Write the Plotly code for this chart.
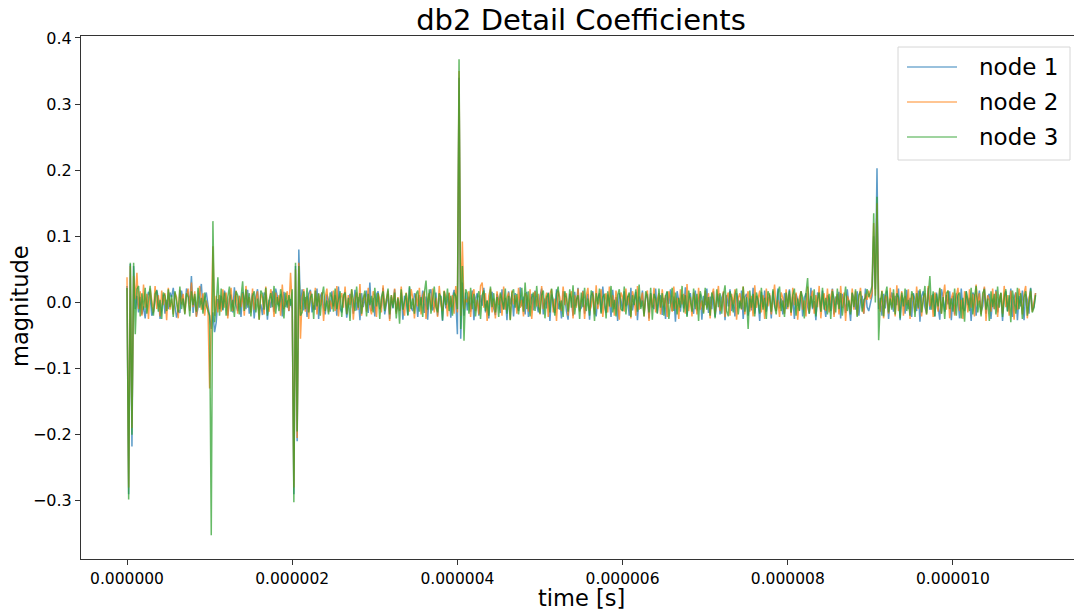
import plotly.graph_objects as go

# sampling: 551 coefficients, 0 .. 1.1e-5 s
t_step = 2e-8
n_points = 551
time_s = [i * t_step for i in range(n_points)]

# detail coefficients, in units of 1e-3
node1_milli = [
    25, -290, 58, -218, 55, -10, 10, -15, 8, -18, -6, -24, 5, 16, 10, -20, -14, 3, 19, 6, -25, -9, 12, -17, 4,
    -10, 15, 8, 22, -5, -23, -11, -16, 18, 4, -12, 21, 14, -2, 40, -16, 9, -21, -8, 13, 28, -11, 6, 15, -5,
    -25, -40, -15, -45, -30, 5, -10, 10, -12, 18, 7, -20, 5, 12, -15, 23, -4, -13, 10, -22, 16, 6, -10, 19, -17,
    2, 14, -24, 8, 20, -12, -3, -19, 15, 11, -26, 4, -8, 17, -14, 21, 9, -6, 13, -21, 16, -7, 3, -13, 5,
    -10, -290, 55, -210, 80, -10, 20, -12, 8, -22, 13, 19, -15, -4, -11, 21, -25, 9, 15, -8, -18, 12, 3, -14, 17,
    -6, 11, -20, 24, -9, -15, 6, 16, -23, -5, 13, 3, -17, 19, -12, 8, -27, 14, -7, 5, 18, -16, 30, -13, 7,
    -21, 12, 17, -10, -5, 22, -18, 2, 13, -25, 8, -9, 20, -14, 5, -12, 15, -26, 10, 4, -19, 23, -8, -13, 14,
    6, -22, 11, -4, 18, -16, 9, -26, 13, 20, -12, -6, 15, -20, 4, 10, -28, 17, -9, 2, 14, -23, 7, 19, 5,
    -48, 340, -55, 30, -20, 15, -12, 9, -14, 18, -27, 6, 14, -20, 11, -5, 22, -15, 3, -24, 10, 16, -9, -19, 13,
    4, -16, 20, -10, 7, -27, 17, -3, 12, -21, 14, -7, -13, 23, -6, 9, -18, 16, -22, 3, 13, -12, 18, -4, -15,
    10, 21, -18, 6, -9, 15, -28, 12, 4, -16, 20, -10, 2, -24, 17, 9, -13, -26, 13, 7, -20, 16, -5, 22, -12,
    -8, 18, -17, 3, 13, -26, 10, 17, -9, -21, 6, 14, -15, 24, -4, -16, 12, 2, -22, 19, -10, 8, -28, 14, 4,
    -13, 17, -6, 10, -20, 22, -12, 3, 16, -27, 9, -7, 18, -17, 6, 13, -24, 14, -3, -10, 21, -16, 5, 11, -19,
    7, -25, 16, -2, 20, -13, 9, -29, 17, 4, -14, 12, -9, 23, -20, 3, 14, -7, -17, 18, -12, 6, 13, -26, 10,
    -4, 21, -16, 9, -10, 17, -22, 2, 13, -18, 7, 15, -27, 11, -6, 20, -13, 4, -21, 14, 3, -9, 18, -25, 8,
    13, -20, 6, -12, 22, -17, 10, 2, -28, 16, -7, 18, -14, 4, 11, -24, 17, -3, -13, 21, -9, 6, -18, 14, -10,
    3, 20, -16, 9, -25, 13, 4, -12, 17, -21, 7, 14, -6, -17, 22, -10, 2, -27, 15, 10, -14, 18, -4, -22, 11,
    6, -13, 21, -18, 9, -3, 16, -24, 13, 4, -16, 20, -9, -28, 14, 7, -11, 17, -20, 3, 10, -17, 21, -7, -13,
    0, 10, 100, 20, 203, -10, 7, -20, 13, -9, 18, -25, 6, 15, -14, 10, -4, 21, -27, 11, 3, -17, 19, -10, 7,
    -22, 14, 4, -13, 18, -29, 9, 17, -7, -16, 22, -11, 2, 13, -21, 15, -6, -26, 20, 8, -14, 11, -3, 17, -27,
    10, -18, 14, 4, -24, 21, -9, -13, 17, -4, 7, -28, 15, 11, -20, 3, 18, -14, -6, 22, -17, 9, 13, -25, 6,
    -10, 19, -15, 4, 14, -28, 11, 17, -13, -3, 21, -22, 7, 15, -27, 10, -6, 18, -27, 13, 4, -17, 22, -11, -7,
    14,
]

node2_milli = [
    38, -280, 55, -190, 40, 5, 45, -10, 17, -20, 27, -8, 13, -25, 21, 3, -15, 25, -10, 11, -21, 18, -4, 14, -27,
    22, -11, 6, -18, 15, 8, -24, 19, -3, 13, -17, 10, 21, -13, 30, -7, 17, -22, 4, 25, -11, 14, -20, 3, -10,
    -130, -30, 85, -20, 10, -15, 11, -14, 20, -8, 15, -24, 6, 22, -13, 3, 18, -17, 10, -7, 14, -20, 25, -4, 8,
    -15, 21, -11, 4, 17, -26, 13, 7, -18, 24, -6, -14, 20, 8, -22, 15, -3, 11, -20, 27, -10, 4, 17, -13, 45,
    -5, -280, 50, -205, 60, -55, 7, 20, -14, 10, -25, 17, 4, -11, 22, -18, 13, -6, 15, -28, 8, 21, -15, 3, -10,
    18, -13, 25, -21, 6, 14, -8, 24, -17, 11, -4, 20, -26, 7, 15, -11, 28, -20, 3, 13, -14, 22, -7, -18, 17,
    10, -22, 14, 4, -15, 26, -10, 6, 18, -28, 11, -3, 21, -17, 8, -13, 24, -8, -20, 15, 3, -14, 20, 7, -24,
    13, -6, 22, -18, 10, 17, -25, 4, 14, -11, 21, -15, 7, -22, 25, -3, -13, 18, 8, -21, 15, -7, 11, -17, 25,
    -15, 350, -20, 92, -10, 5, 0, 17, -22, 11, 20, -13, 4, -18, 25, 30, -8, 14, -28, 10, 21, -15, 6, -24, 17,
    -4, 13, -20, 24, -11, 7, 15, -26, 18, -3, 11, -17, 22, -8, 4, -21, 14, 10, -14, 20, -25, 8, 17, -6, 13,
    -18, 25, -10, 3, 15, -22, 13, 20, -15, 6, -28, 18, 8, -13, 24, -4, 14, -20, 7, 17, -24, 11, -8, 21, -14,
    4, 17, -25, 10, 22, -13, -6, 15, -18, 26, -10, 7, 20, -22, 3, 14, -15, 24, -7, 11, -20, 18, -3, -26, 15,
    8, -14, 21, -4, 13, -24, 17, 6, -20, 25, -11, 3, 15, -21, 10, 18, -28, 13, -8, 22, -15, 4, 14, -18, 20,
    -7, 11, -22, 17, 4, -14, 24, -10, 7, -25, 20, -3, 13, -17, 28, -13, 8, -21, 15, 6, -18, 22, -11, 3, -15,
    18, -8, 14, -24, 10, 21, -17, 4, 25, -13, -6, 17, -22, 8, 15, -20, 13, -3, 20, -26, 7, 14, -11, 24, -18,
    6, 17, -14, 10, -21, 26, -8, 3, 18, -15, 11, -25, 21, -6, 14, -18, 8, 27, -13, 4, -22, 15, 7, -17, 20,
    -10, 13, -20, 22, -4, 15, -26, 8, 17, -11, 3, -21, 24, -14, 7, 18, -17, 11, -7, 25, -24, 6, 14, -13, 21,
    -15, 8, 20, -22, 4, 13, -18, 25, -8, 15, -28, 10, 3, -14, 21, -11, 17, -20, 7, 22, -6, -17, 13, 4, 18,
    5, 15, 120, 10, 150, 0, -14, 18, -24, 11, 6, -17, 22, -8, 14, -21, 26, -13, 4, 17, -20, 10, -4, 20, -25,
    13, 3, -15, 24, -10, 17, -21, 7, 14, -18, 25, -6, 11, -22, 15, 4, -14, 21, -17, 8, 27, -11, 18, -24, 6,
    15, -20, 10, 22, -13, 4, -25, 17, 7, -15, 20, -8, 13, -21, 27, -4, 14, -18, 8, 24, -28, 11, 3, -14, 21,
    -10, 17, -22, 6, 14, -17, 25, -7, 11, -20, 18, 3, -26, 15, -11, 21, 8, -18, 13, 25, -24, 7, 17, -14, 4,
    14,
]

node3_milli = [
    22, -298, 60, -200, 60, -48, 20, 25, -21, 14, -11, 22, -17, 7, 25, -6, -20, 13, 18, -14, 4, -25, 15, 10, -13,
    20, -7, 11, -22, 17, 3, -15, 24, -10, 6, -18, 14, 8, -21, 17, -4, 13, -14, 22, -8, 7, -17, 15, -5, -12,
    -20, -352, 123, -30, -5, 38, -20, 21, -11, 15, -20, 8, 24, -14, 4, -22, 17, 11, -18, 7, 32, -13, 20, -8, 14,
    -21, 10, 17, -15, 6, -26, 18, 13, -11, 22, -20, 3, 14, -7, 25, -17, 8, -13, 20, 4, -24, 15, -8, 11, -5,
    20, -302, 60, -195, 55, -20, -15, 17, -10, 22, -15, 7, 13, -25, 18, -6, 14, -20, 10, 24, -13, 3, -18, 15, 8,
    -14, 21, -10, 4, 17, -22, 11, 15, -18, 7, -28, 20, 3, -13, 24, -8, 14, -17, 6, 18, -21, 13, -4, 10, -15,
    22, -6, 14, -25, 8, 17, -13, 4, 21, -18, 11, -8, 15, -24, 7, -32, 20, -11, 3, 14, -20, 25, -10, 6, -17,
    13, 18, -14, 8, -22, 15, 33, -11, 20, -17, 4, 24, -7, -15, 14, 8, -27, 17, -4, 21, -13, 10, -20, 15, 10,
    -10, 368, -40, 55, -58, 20, 14, -17, 22, -10, 13, -21, 6, 17, -25, 11, 18, -13, 3, -20, 24, -7, 14, -15, 8,
    -22, 15, 4, -11, 21, -17, 10, -27, 14, 20, -8, 13, -18, 6, 22, -14, 30, -10, 17, -21, 7, 15, -13, 25, -6,
    -17, 11, 18, -24, 8, 14, -15, 21, -4, -20, 13, 24, -11, 3, -22, 17, 7, -14, 20, -8, 26, -18, 4, 11, -25,
    15, -7, 22, -13, 6, -20, 18, 10, -28, 14, -3, 21, -17, 8, 13, -24, 17, -6, 25, -15, 4, -21, 11, 20, -10,
    -13, 24, -18, 7, 15, -22, 11, -4, 20, -14, 27, -10, 3, -21, 17, 8, -15, 22, -26, 13, 6, -17, 21, -8, 14,
    -20, 10, 17, -25, 4, 22, -13, 15, -18, 7, -8, 25, -15, 11, -22, 18, 3, -14, 21, -10, 13, -28, 17, 6, -17,
    22, -11, 8, -20, 15, 4, -24, 20, -7, 14, -17, 10, 26, -13, -21, 17, 7, -15, 11, 21, -18, 3, -10, 24, -14,
    8, -40, 18, -8, 13, -21, 15, 4, -17, 22, -11, 7, -25, 17, 10, -14, 20, -6, -18, 14, 24, -13, 3, -22, 15,
    -7, 18, -15, 11, 21, -20, 6, -13, 17, 8, -24, 14, 37, -17, 10, -8, 20, -21, 4, 15, -14, 22, -11, 7, -18,
    13, -25, 17, 6, -15, 21, -10, 14, -20, 8, 24, -13, 3, -18, 15, -7, 20, -22, 11, 17, -14, 4, 7, 20, 8,
    15, 25, 135, 0, 160, -57, 0, 17, -21, 11, 24, -15, 6, -11, 20, -18, 14, 8, -24, 15, -6, 21, -13, 4, -20,
    17, 10, -22, 14, -8, 20, -15, 4, 25, -18, 7, 40, -11, 17, -21, 13, -6, 22, -17, 8, -25, 14, 18, -10, 6,
    -14, 21, -20, 11, 15, -24, 7, -29, 17, 4, -13, 22, -18, 8, 25, -15, 3, -21, 14, 20, -11, 6, -28, 17, -7,
    13, -18, 24, -8, 15, -22, 6, 20, -14, 11, -30, 18, 3, -17, 22, -10, 14, -25, 8, 17, -20, 4, 21, -15, -8,
    11,
]

series_names = ["node 1", "node 2", "node 3"]
series_colors = ["#1f77b4", "#ff7f0e", "#2ca02c"]
x_tick_vals = [0, 2e-6, 4e-6, 6e-6, 8e-6, 1e-5]
x_tick_text = ["0.000000", "0.000002", "0.000004", "0.000006", "0.000008", "0.000010"]
y_tick_vals = [-0.3, -0.2, -0.1, 0.0, 0.1, 0.2, 0.3, 0.4]
y_tick_text = ["\u22120.3", "\u22120.2", "\u22120.1", "0.0", "0.1", "0.2", "0.3", "0.4"]

FONT = "DejaVu Sans"
W, H = 1074, 613
ML, MR, MT, MB = 81, 0, 36, 54
PW, PH = W - ML - MR, H - MT - MB


def px_x(px):
    return (px - ML) / PW


def px_y(py):
    return (H - MB - py) / PH


LINE_W = 1.5
ALPHA = 0.72

fig = go.Figure()
for name, color, vals in zip(series_names, series_colors,
                             [node1_milli, node2_milli, node3_milli]):
    fig.add_trace(go.Scatter(
        x=time_s, y=[v / 1000 for v in vals], mode="lines", name=name,
        line=dict(color=color, width=LINE_W), opacity=ALPHA, showlegend=False,
    ))

# legend drawn as a framed box with line samples and labels
shapes = [dict(type="rect", xref="paper", yref="paper",
               x0=px_x(898), x1=px_x(1070), y0=px_y(160), y1=px_y(47),
               line=dict(color="#d6d6d6", width=1), fillcolor="white", layer="above")]
annotations = []
for k, (name, color) in enumerate(zip(series_names, series_colors)):
    yc = 67 + 35 * k
    shapes.append(dict(type="line", xref="paper", yref="paper",
                       x0=px_x(907), x1=px_x(957), y0=px_y(yc), y1=px_y(yc),
                       line=dict(color=color, width=1.7), opacity=0.6, layer="above"))
    annotations.append(dict(text=name, x=px_x(977), y=px_y(yc), xref="paper", yref="paper",
                            xanchor="left", yanchor="middle", showarrow=False,
                            font=dict(family=FONT, size=23, color="black")))

annotations += [
    dict(text="time [s]", x=px_x(581), y=px_y(598),
         xref="paper", yref="paper", xanchor="center", yanchor="middle",
         showarrow=False, font=dict(family=FONT, size=22.5, color="black")),
    dict(text="magnitude", x=px_x(20), y=px_y(306),
         xref="paper", yref="paper", xanchor="center", yanchor="middle",
         textangle=-90, showarrow=False,
         font=dict(family=FONT, size=22.5, color="black")),
]

fig.update_layout(
    width=W, height=H,
    margin=dict(l=ML, r=MR, t=MT, b=MB, pad=0),
    paper_bgcolor="white", plot_bgcolor="white",
    font=dict(family=FONT, color="black"),
    showlegend=False,
    title=dict(
        text="db2 Detail Coefficients",
        x=px_x(581), xref="paper", xanchor="center",
        y=(H - 20) / H, yref="container", yanchor="middle",
        font=dict(family=FONT, size=29, color="black"),
    ),
    shapes=shapes,
    annotations=annotations,
)

fig.update_xaxes(
    range=[-0.557e-6, 11.465e-6], tickvals=x_tick_vals, ticktext=x_tick_text,
    showgrid=False, zeroline=False, showline=True, linecolor="#333333", linewidth=1,
    mirror=True, ticks="outside", ticklen=5, tickwidth=1, tickcolor="#333333",
    tickfont=dict(family=FONT, size=15.5, color="black"),
)
fig.update_yaxes(
    range=[-0.388, 0.403], tickvals=y_tick_vals, ticktext=y_tick_text,
    showgrid=False, zeroline=False, showline=True, linecolor="#333333", linewidth=1,
    mirror=False, ticks="outside", ticklen=5, tickwidth=1, tickcolor="#333333",
    tickfont=dict(family=FONT, size=16, color="black"),
)

fig.write_html("out.html")
